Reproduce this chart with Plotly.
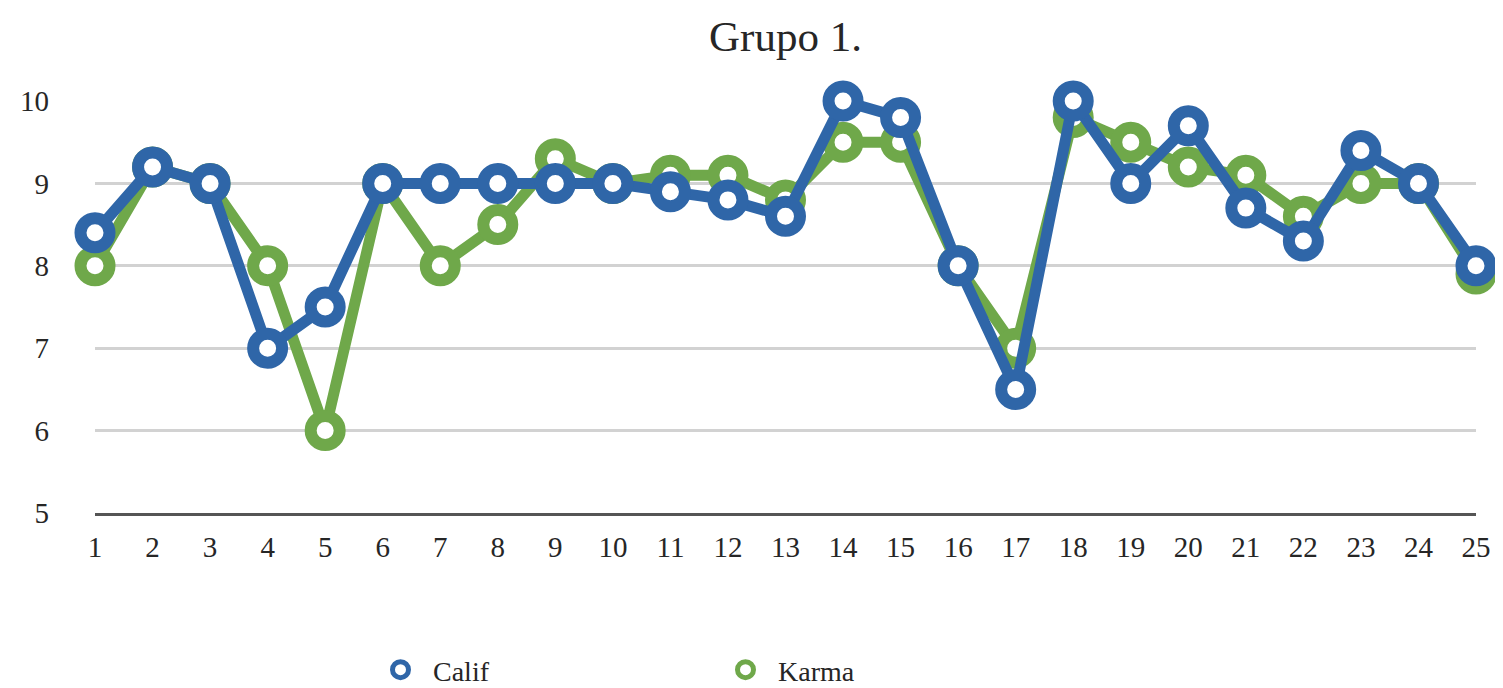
import plotly.graph_objects as go

categories = list(range(1, 26))
tick_labels = [str(c) for c in categories]
calif = [8.4, 9.2, 9.0, 7.0, 7.5, 9.0, 9.0, 9.0, 9.0, 9.0, 8.9, 8.8, 8.6, 10.0, 9.8,
         8.0, 6.5, 10.0, 9.0, 9.7, 8.7, 8.3, 9.4, 9.0, 8.0]
karma = [8.0, 9.2, 9.0, 8.0, 6.0, 9.0, 8.0, 8.5, 9.3, 9.0, 9.1, 9.1, 8.8, 9.5, 9.5,
         8.0, 7.0, 9.8, 9.5, 9.2, 9.1, 8.6, 9.0, 9.0, 7.9]
y_ticks = [5, 6, 7, 8, 9, 10]

BLUE = "#2F66A8"
GREEN = "#6FA84A"
FONT = "Liberation Serif"

# page body has an 8px default margin: figure drawn 8px right/down
W, H = 1495, 680

fig = go.Figure()

for name, vals, col in [("Karma", karma, GREEN), ("Calif", calif, BLUE)]:
    fig.add_trace(go.Scatter(
        x=categories, y=vals, mode="lines+markers", name=name,
        line=dict(color=col, width=11),
        marker=dict(symbol="circle", size=29, color="white",
                    line=dict(color=col, width=12)),
        cliponaxis=False, showlegend=False,
    ))

# legend entries (marker only)
for name, col in [("Calif", BLUE), ("Karma", GREEN)]:
    fig.add_trace(go.Scatter(
        x=[None], y=[None], mode="markers", name=name,
        marker=dict(symbol="circle", size=16, color="white",
                    line=dict(color=col, width=5)),
    ))

fig.update_layout(
    width=W, height=H,
    margin=dict(l=85, r=16, t=93, b=175),
    paper_bgcolor="white", plot_bgcolor="white",
    font=dict(family=FONT, color="#262626", size=29),
    title=dict(text="Grupo 1.", font=dict(family=FONT, size=43, color="#262626"),
               x=0.5, xref="paper", xanchor="center",
               y=1 - 28 / H, yref="container", yanchor="middle"),
    legend=dict(orientation="h", font=dict(family=FONT, size=28, color="#262626"),
                xref="container", yref="container",
                x=360 / W, xanchor="left",
                y=1 - 662 / H, yanchor="middle",
                itemwidth=55,
                entrywidth=275, entrywidthmode="pixels",
                bgcolor="rgba(0,0,0,0)"),
    showlegend=True,
)

fig.update_xaxes(
    range=[1, 25], tickvals=categories, ticktext=tick_labels,
    showgrid=False, zeroline=False,
    showline=True, linecolor="#555555", linewidth=3,
    ticks="", ticklabelstandoff=6,
    tickfont=dict(family=FONT, size=29, color="#262626"),
)
fig.update_yaxes(
    range=[5, 10], tickvals=y_ticks,
    showgrid=True, gridcolor="#D2D2D2", gridwidth=3,
    zeroline=False, showline=False, ticks="",
    ticklabelstandoff=45,
    tickfont=dict(family=FONT, size=29, color="#262626"),
)

fig.write_html("out.html")
